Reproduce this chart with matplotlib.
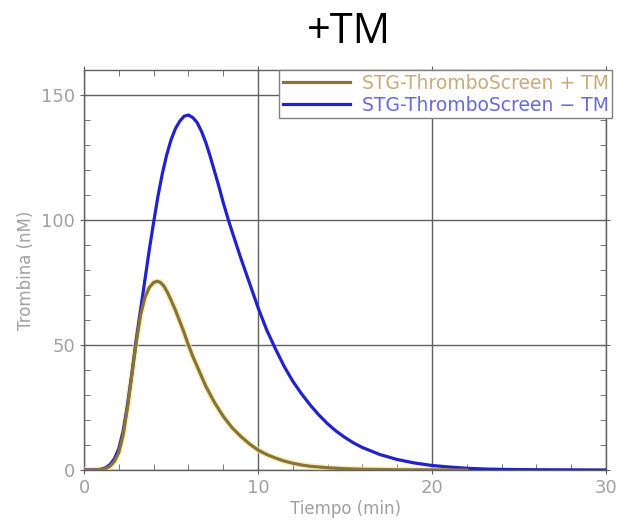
import matplotlib
matplotlib.use("Agg")
import matplotlib.pyplot as plt
from matplotlib.ticker import MultipleLocator

title = "+TM"
xlabel = "Tiempo (min)"
ylabel = "Trombina (nM)"
label_plus = "STG-ThromboScreen + TM"
label_minus = "STG-ThromboScreen \u2212 TM"

t_plus = [0, 0.5, 1.0, 1.25, 1.5, 1.75, 2.0, 2.25, 2.5, 2.75, 3.0, 3.25, 3.5, 3.75, 4.0,
          4.2, 4.4, 4.6, 4.8, 5.0, 5.25, 5.5, 5.75, 6.0, 6.25, 6.5, 6.75, 7.0, 7.5, 8.0,
          8.5, 9.0, 9.5, 10.0, 10.5, 11.0, 11.5, 12.0, 12.5, 13.0, 14.0, 15.0, 16.0, 18.0,
          20.0, 22.0]
v_plus = [0, 0, 0.2, 0.6, 1.5, 3.5, 7, 14, 25, 38, 51, 62, 69, 73, 75,
          75.5, 75, 73.5, 71, 68, 64, 59.5, 55, 50, 45.5, 41.5, 37.5, 33.5, 27, 21.5,
          17, 13.5, 10.5, 8, 6.2, 4.8, 3.6, 2.7, 2.0, 1.5, 0.9, 0.5, 0.3, 0.1,
          0.05, 0]

t_minus = [0, 0.5, 1.0, 1.25, 1.5, 1.75, 2.0, 2.25, 2.5, 2.75, 3.0, 3.25, 3.5, 3.75, 4.0,
           4.25, 4.5, 4.75, 5.0, 5.25, 5.5, 5.75, 6.0, 6.25, 6.5, 6.75, 7.0, 7.25, 7.5,
           7.75, 8.0, 8.3, 8.5, 9.0, 9.5, 10.0, 10.5, 11.0, 11.5, 12.0, 12.5, 13.0, 13.5,
           14.0, 14.5, 15.0, 15.5, 16.0, 17.0, 18.0, 19.0, 20.0, 21.0, 22.0, 23.0, 24.0,
           26.0, 28.0, 30.0]
v_minus = [0, 0, 0.3, 0.9, 2.2, 4.5, 8.5, 15.5, 26, 38.5, 52, 64, 76, 88, 99,
           109.5, 118.5, 126, 132, 136.5, 139.5, 141.5, 142, 141, 139, 135.5, 131, 125.5, 119.5,
           113.5, 107, 100, 95.6, 85, 75, 65, 56, 48.5, 41.5, 35.5, 30.5, 26, 22,
           18.5, 15.5, 13, 10.8, 9, 6.2, 4.2, 2.8, 1.8, 1.2, 0.7, 0.4, 0.25,
           0.1, 0.05, 0]

gold = "#8a7435"
blue = "#2222cc"
gray_txt = "#a0a0a0"
axcol = "#606060"

fig = plt.figure(figsize=(6.19, 5.23), dpi=100)
ax = fig.add_axes([84/619, 1 - 470/523, (606-84)/619, (470-70)/523])

ax.plot(t_plus, v_plus, color="#f5e9a0", lw=4.5, zorder=3, alpha=0.6)
ax.plot(t_minus, v_minus, color=blue, lw=2.3, zorder=4, label=label_minus)
ax.plot(t_plus, v_plus, color=gold, lw=2.3, zorder=5, label=label_plus)

ax.set_xlim(0, 30)
ax.set_ylim(0, 160)
ax.xaxis.set_major_locator(MultipleLocator(10))
ax.xaxis.set_minor_locator(MultipleLocator(2))
ax.yaxis.set_major_locator(MultipleLocator(50))
ax.yaxis.set_minor_locator(MultipleLocator(10))
ax.grid(True, which="major", color=axcol, lw=1.0, zorder=1)
ax.tick_params(which="both", top=True, right=True, direction="in", colors=axcol,
               labelcolor=gray_txt, labelsize=13)
ax.tick_params(which="major", length=6, direction="inout")
ax.tick_params(which="minor", length=4)
for s in ax.spines.values():
    s.set_color(axcol)
    s.set_linewidth(1.0)

ax.set_xlabel(xlabel, color=gray_txt, fontsize=12, labelpad=2)
ax.set_ylabel(ylabel, color=gray_txt, fontsize=12, labelpad=4)

fig.text(349/619, 1 - 32/523, title, ha="center", va="center", fontsize=30,
         family=["Open Sans", "DejaVu Sans"], color="black")

handles, labels = ax.get_legend_handles_labels()
leg = ax.legend(handles[::-1], labels[::-1], loc="upper right",
                bbox_to_anchor=(1.012, 1.0), fontsize=13.5, frameon=True,
                fancybox=False, edgecolor="#808080", framealpha=1,
                handlelength=3.6, handletextpad=0.6, borderpad=0.2, labelspacing=0.15,
                borderaxespad=0)
leg.get_frame().set_linewidth(1.0)
leg.get_texts()[0].set_color("#c8ac78")
leg.get_texts()[1].set_color("#6a6ad8")
leg.set_zorder(10)

fig.savefig("out.png", dpi=100)
